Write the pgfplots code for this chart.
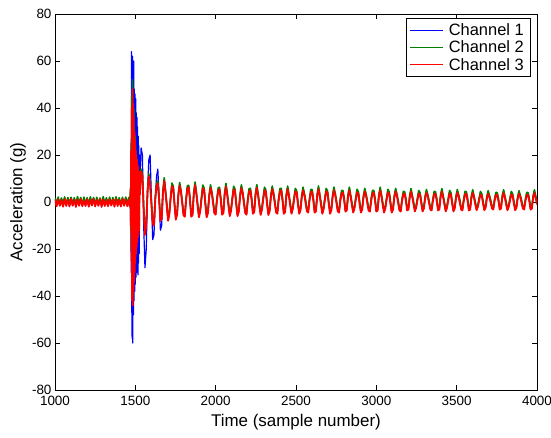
\documentclass[border=0pt]{standalone}
\usepackage{fontspec}
\setmainfont{Liberation Sans}
\usepackage{pgfplots}
\pgfplotsset{compat=1.18}
\usepackage{pgfplotstable}
\definecolor{mgreen}{rgb}{0,0.5,0}
\definecolor{mred}{rgb}{1,0,0}
\definecolor{mblue}{rgb}{0,0,1}

\pgfplotstableread{
x b g r
1000 1.2 1.8 0.9
1010 -1.3 -0.6 -1.8
1020 1.0 2.1 1.2
1030 -1.5 -0.9 -1.6
1040 1.4 1.7 0.8
1050 -1.1 -0.7 -2.0
1060 0.9 2.2 1.3
1070 -1.4 -1.0 -1.7
1080 1.3 1.9 1.0
1090 -1.2 -0.5 -1.9
1100 1.1 2.0 1.4
1110 -1.6 -0.8 -1.5
1120 1.5 1.8 0.9
1130 -1.0 -0.9 -2.1
1140 1.2 2.3 1.1
1150 -1.3 -0.6 -1.6
1160 0.8 1.9 1.3
1170 -1.5 -1.1 -1.8
1180 1.4 2.1 0.7
1190 -1.2 -0.7 -1.7
1200 1.0 1.8 1.2
1210 -1.4 -0.8 -2.0
1220 1.3 2.2 1.0
1230 -1.1 -0.5 -1.5
1240 1.6 1.9 1.4
1250 -1.3 -1.0 -1.9
1260 0.9 2.0 0.8
1270 -1.5 -0.7 -1.6
1280 1.2 1.7 1.3
1290 -1.0 -0.9 -2.1
1300 1.4 2.3 1.1
1310 -1.6 -0.6 -1.7
1320 1.1 1.8 0.9
1330 -1.2 -0.8 -1.8
1340 1.3 2.1 1.2
1350 -1.4 -1.1 -1.5
1360 0.9 1.9 1.0
1370 -1.1 -0.7 -2.0
1380 1.5 2.2 1.3
1390 -1.3 -0.5 -1.7
1400 1.2 1.8 0.8
1410 -1.5 -0.9 -1.9
1420 1.0 2.0 1.4
1430 -1.2 -0.8 -1.6
1440 1.4 2.1 1.1
1450 -1.3 -0.6 -1.8
1460 1.1 1.9 0.9
1466 -1.4 -0.7 -1.7
1468 2 3 -2
1470 -8 6 5
1472 20 -12 -10
1474 -30 25 22
1476 64 -20 -25
1478 -45 45 40
1480 -58 -38 -42
1482 62 52 48
1484 -60 -40 -44
1486 50 38 42
1488 -48 -35 -38
1490 60 40 36
1492 -42 -30 -34
1494 48 32 30
1496 -38 -26 -30
1498 46 28 26
1500 -35 -22 -26
1502 44 24 22
1504 -32 -20 -22
1506 38 20 20
1508 -30 -16 -19
1510 36 18 18
1512 -28 -14 -17
1514 32 15 16
1516 -31 -13 -15
1518 28 14 15
1520 -26 -12 -14
1522 24 13 13
1524 -22 -11 -12
1526 20 10 11
1528 8 4 3
1536 23 14 13
1544 20 12 11
1552 -10 -2 -3
1560 -28 -13 -14
1568 -20 -9 -10
1576 5 5 4
1584 18 12 11
1592 20 8 7
1600 2 0 -1
1608 -16 -8 -9
1616 -14 -9 -10
1624 0 2 1
1632 11 8 7
1640 14 9 8
1648 2 2 1
1656 -12 -7 -8
1664 -10 -6 -7
1672 4.4 5 4
1680 9.6 10.3 9
1688 4.2 4.8 4
1696 -1.5 -0.8 -2
1704 -7.7 -7.4 -8
1712 -4.6 -4.1 -5
1720 1.9 2.5 1.5
1728 7.4 8.1 6.8
1736 6.2 6.8 6
1744 -1.0 -0.3 -1.5
1752 -7.2 -6.9 -7.5
1760 -4.9 -4.4 -5.3
1768 3.2 3.8 2.8
1776 7.6 8.3 7
1784 4.4 5.0 4.2
1792 -0.2 0.5 -0.7
1800 -5.3 -5.0 -5.6
1808 -5.9 -5.4 -6.3
1816 1.1 1.7 0.7
1824 6.2 6.9 5.6
1832 6.5 7.1 6.3
1840 1.2 1.9 0.7
1848 -6.0 -5.7 -6.3
1856 -5.2 -4.7 -5.6
1864 3.7 4.3 3.3
1872 7.8 8.5 7.2
1880 3.5 4.1 3.3
1888 -1.5 -0.8 -2
1896 -6.2 -5.9 -6.5
1904 -3.5 -3.0 -3.9
1912 1.7 2.3 1.3
1920 6.5 7.2 5.9
1928 5.4 6.0 5.2
1936 -0.8 -0.1 -1.3
1944 -6.2 -5.9 -6.5
1952 -4.2 -3.7 -4.6
1960 2.8 3.4 2.4
1968 6.6 7.3 6
1976 3.8 4.4 3.6
1984 -0.1 0.6 -0.6
1992 -4.5 -4.2 -4.8
2000 -5.0 -4.5 -5.4
2008 1.0 1.6 0.6
2016 5.4 6.1 4.8
2024 5.6 6.2 5.4
2032 1.1 1.8 0.6
2040 -5.1 -4.8 -5.4
2048 -4.4 -3.9 -4.8
2056 3.4 4.0 3
2064 7.2 7.9 6.6
2072 3.2 3.8 3
2080 -1.3 -0.6 -1.8
2088 -5.7 -5.4 -6
2096 -3.2 -2.7 -3.6
2104 1.6 2.2 1.2
2112 6.0 6.7 5.4
2120 5.0 5.6 4.8
2128 -0.7 0 -1.2
2136 -5.7 -5.4 -6
2144 -3.8 -3.3 -4.2
2152 2.8 3.4 2.4
2160 6.6 7.3 6
2168 3.8 4.4 3.6
2176 -0.1 0.6 -0.6
2184 -4.5 -4.2 -4.8
2192 -5.0 -4.5 -5.4
2200 1.0 1.6 0.6
2208 5.0 5.7 4.4
2216 5.2 5.8 5
2224 1.1 1.8 0.6
2232 -4.7 -4.4 -5
2240 -4.0 -3.5 -4.4
2248 3.2 3.8 2.8
2256 6.7 7.4 6.1
2264 3.0 3.6 2.8
2272 -1.2 -0.5 -1.7
2280 -5.2 -4.9 -5.5
2288 -2.9 -2.4 -3.3
2296 1.5 2.1 1.1
2304 5.6 6.3 5
2312 4.6 5.2 4.4
2320 -0.6 0.1 -1.1
2328 -5.2 -4.9 -5.5
2336 -3.5 -3.0 -3.9
2344 2.6 3.2 2.2
2352 6.1 6.8 5.5
2360 3.5 4.1 3.3
2368 -0.1 0.6 -0.6
2376 -4.1 -3.8 -4.4
2384 -4.6 -4.1 -5
2392 1.0 1.6 0.6
2400 5.0 5.7 4.4
2408 5.2 5.8 5
2416 1.1 1.8 0.6
2424 -4.7 -4.4 -5
2432 -4.0 -3.5 -4.4
2440 2.9 3.5 2.5
2448 6.1 6.8 5.5
2456 2.7 3.3 2.5
2464 -1.0 -0.3 -1.5
2472 -4.7 -4.4 -5
2480 -2.6 -2.1 -3
2488 1.4 2.0 1
2496 5.1 5.8 4.5
2504 4.2 4.8 4
2512 -0.5 0.2 -1
2520 -4.7 -4.4 -5
2528 -3.1 -2.6 -3.5
2536 2.4 3.0 2
2544 5.6 6.3 5
2552 3.2 3.8 3
2560 0 0.7 -0.5
2568 -3.7 -3.4 -4
2576 -4.1 -3.6 -4.5
2584 0.9 1.5 0.5
2592 4.6 5.3 4
2600 4.7 5.3 4.5
2608 1.0 1.7 0.5
2616 -4.2 -3.9 -4.5
2624 -3.6 -3.1 -4
2632 2.9 3.5 2.5
2640 6.1 6.8 5.5
2648 2.7 3.3 2.5
2656 -1.0 -0.3 -1.5
2664 -4.7 -4.4 -5
2672 -2.6 -2.1 -3
2680 1.4 2.0 1
2688 5.1 5.8 4.5
2696 4.2 4.8 4
2704 -0.5 0.2 -1
2712 -4.7 -4.4 -5
2720 -3.1 -2.6 -3.5
2728 2.4 3.0 2
2736 5.6 6.3 5
2744 3.2 3.8 3
2752 0 0.7 -0.5
2760 -3.7 -3.4 -4
2768 -4.1 -3.6 -4.5
2776 0.9 1.5 0.5
2784 4.2 4.9 3.6
2792 4.3 4.9 4.1
2800 1.0 1.7 0.5
2808 -3.8 -3.5 -4.1
2816 -3.2 -2.7 -3.6
2824 2.7 3.3 2.3
2832 5.6 6.3 5
2840 2.5 3.1 2.3
2848 -0.9 -0.2 -1.4
2856 -4.2 -3.9 -4.5
2864 -2.3 -1.8 -2.7
2872 1.3 1.9 0.9
2880 4.7 5.4 4.1
2888 3.8 4.4 3.6
2896 -0.4 0.3 -0.9
2904 -4.2 -3.9 -4.5
2912 -2.8 -2.3 -3.2
2920 2.2 2.8 1.8
2928 5.1 5.8 4.5
2936 2.9 3.5 2.7
2944 0 0.7 -0.5
2952 -3.3 -3.0 -3.6
2960 -3.7 -3.2 -4.1
2968 0.9 1.5 0.5
2976 4.2 4.9 3.6
2984 4.3 4.9 4.1
2992 1.0 1.7 0.5
3000 -3.8 -3.5 -4.1
3008 -3.2 -2.7 -3.6
3016 2.7 3.3 2.3
3024 5.6 6.3 5
3032 2.5 3.1 2.3
3040 -0.9 -0.2 -1.4
3048 -4.2 -3.9 -4.5
3056 -2.3 -1.8 -2.7
3064 1.3 1.9 0.9
3072 4.7 5.4 4.1
3080 3.8 4.4 3.6
3088 -0.4 0.3 -0.9
3096 -4.2 -3.9 -4.5
3104 -2.8 -2.3 -3.2
3112 2.2 2.8 1.8
3120 5.1 5.8 4.5
3128 2.9 3.5 2.7
3136 0 0.7 -0.5
3144 -3.3 -3.0 -3.6
3152 -3.7 -3.2 -4.1
3160 0.8 1.4 0.4
3168 3.8 4.5 3.2
3176 3.8 4.4 3.6
3184 0.9 1.6 0.4
3192 -3.3 -3.0 -3.6
3200 -2.8 -2.3 -3.2
3208 2.4 3.0 2
3216 5.0 5.7 4.4
3224 2.2 2.8 2
3232 -0.7 0 -1.2
3240 -3.7 -3.4 -4
3248 -2.0 -1.5 -2.4
3256 1.2 1.8 0.8
3264 4.2 4.9 3.6
3272 3.4 4.0 3.2
3280 -0.3 0.4 -0.8
3288 -3.7 -3.4 -4
3296 -2.4 -1.9 -2.8
3304 2.0 2.6 1.6
3312 4.6 5.3 4
3320 2.6 3.2 2.4
3328 0.1 0.8 -0.4
3336 -2.9 -2.6 -3.2
3344 -3.2 -2.7 -3.6
3352 0.8 1.4 0.4
3360 3.8 4.5 3.2
3368 3.8 4.4 3.6
3376 0.9 1.6 0.4
3384 -3.3 -3.0 -3.6
3392 -2.8 -2.3 -3.2
3400 2.4 3.0 2
3408 5.0 5.7 4.4
3416 2.2 2.8 2
3424 -0.7 0 -1.2
3432 -3.7 -3.4 -4
3440 -2.0 -1.5 -2.4
3448 1.2 1.8 0.8
3456 4.2 4.9 3.6
3464 3.4 4.0 3.2
3472 -0.3 0.4 -0.8
3480 -3.7 -3.4 -4
3488 -2.4 -1.9 -2.8
3496 2.0 2.6 1.6
3504 4.6 5.3 4
3512 2.6 3.2 2.4
3520 0.1 0.8 -0.4
3528 -2.9 -2.6 -3.2
3536 -3.2 -2.7 -3.6
3544 0.8 1.4 0.4
3552 3.8 4.5 3.2
3560 3.8 4.4 3.6
3568 0.9 1.6 0.4
3576 -3.3 -3.0 -3.6
3584 -2.8 -2.3 -3.2
3592 2.2 2.8 1.8
3600 4.5 5.2 3.9
3608 2.0 2.6 1.8
3616 -0.6 0.1 -1.1
3624 -3.2 -2.9 -3.5
3632 -1.7 -1.2 -2.1
3640 1.1 1.7 0.7
3648 3.8 4.5 3.2
3656 3.0 3.6 2.8
3664 -0.2 0.5 -0.7
3672 -3.2 -2.9 -3.5
3680 -2.1 -1.6 -2.5
3688 1.8 2.4 1.4
3696 4.1 4.8 3.5
3704 2.3 2.9 2.1
3712 0.1 0.8 -0.4
3720 -2.5 -2.2 -2.8
3728 -2.8 -2.3 -3.2
3736 0.8 1.4 0.4
3744 3.4 4.1 2.8
3752 3.4 4.0 3.2
3760 0.9 1.6 0.4
3768 -2.9 -2.6 -3.2
3776 -2.4 -1.9 -2.8
3784 2.2 2.8 1.8
3792 4.5 5.2 3.9
3800 2.0 2.6 1.8
3808 -0.6 0.1 -1.1
3816 -3.2 -2.9 -3.5
3824 -1.7 -1.2 -2.1
3832 1.1 1.7 0.7
3840 3.8 4.5 3.2
3848 3.0 3.6 2.8
3856 -0.2 0.5 -0.7
3864 -3.2 -2.9 -3.5
3872 -2.1 -1.6 -2.5
3880 1.8 2.4 1.4
3888 4.1 4.8 3.5
3896 2.3 2.9 2.1
3904 0.1 0.8 -0.4
3912 -2.5 -2.2 -2.8
3920 -2.8 -2.3 -3.2
3928 0.8 1.4 0.4
3936 3.4 4.1 2.8
3944 3.4 4.0 3.2
3952 0.9 1.6 0.4
3960 -2.9 -2.6 -3.2
3968 -2.4 -1.9 -2.8
3976 2.2 2.8 1.8
3984 4.5 5.2 3.9
3992 2.0 2.6 1.8
4000 -0.6 0.1 -1.1
}\data

\begin{document}
\begin{tikzpicture}
\path[use as bounding box] (-55bp,-48bp) rectangle (496bp,390bp);
\begin{axis}[
  at={(0,0)}, anchor=south west,
  scale only axis, width=482bp, height=376bp,
  xmin=1000, xmax=4000, ymin=-80, ymax=80,
  xtick={1000,1500,...,4000}, ytick={-80,-60,...,80},
  tick align=inside, tick pos=both,
  major tick length=5bp,
  /pgf/number format/assume math mode=true,
  /pgf/number format/1000 sep={},
  tick label style={font=\fontsize{13.5}{16}\selectfont},
  xticklabel style={yshift=-3bp},
  xlabel={Time (sample number)},
  ylabel={Acceleration (g)},
  xlabel style={font=\fontsize{17}{20}\selectfont, at={(axis description cs:0.5,-0.085)}, anchor=center},
  ylabel style={font=\fontsize{17}{20}\selectfont, at={(axis description cs:-0.0768,0.5)}, anchor=center},
  axis line style={black, line width=0.6bp},
  every tick/.style={black, line width=0.5bp},
  legend style={at={(0.9855,0.989)}, anchor=north east, draw=black, line width=0.5bp,
    font=\fontsize{16.5}{19}\selectfont, inner xsep=4bp, inner ysep=3bp,
    row sep=0bp, /tikz/every odd column/.append style={column sep=3bp}},
  legend cell align=left,
]
\addplot[color=mblue, line width=1.2bp, line join=round, forget plot] table[x=x,y=b]{\data};
\addplot[color=mgreen, line width=1.6bp, line join=round, forget plot] table[x=x,y=g]{\data};
\addplot[color=mred, line width=1.8bp, line join=round, forget plot] table[x=x,y=r]{\data};
\addlegendimage{legend image code/.code={\draw[draw=mblue, line width=1bp] (0bp,0bp) -- (33bp,0bp);}}
\addlegendentry{Channel 1}
\addlegendimage{legend image code/.code={\draw[draw=mgreen, line width=1bp] (0bp,0bp) -- (33bp,0bp);}}
\addlegendentry{Channel 2}
\addlegendimage{legend image code/.code={\draw[draw=mred, line width=1bp] (0bp,0bp) -- (33bp,0bp);}}
\addlegendentry{Channel 3}
\end{axis}
\end{tikzpicture}
\end{document}
